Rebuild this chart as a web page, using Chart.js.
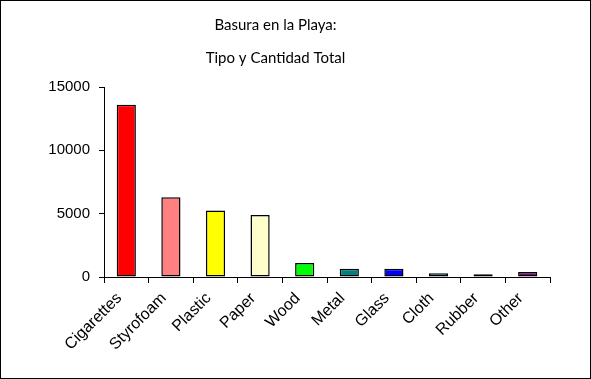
<!DOCTYPE html>
<html>
<head>
<meta charset="utf-8">
<script src="https://cdn.jsdelivr.net/npm/chart.js@4/dist/chart.umd.min.js"></script>
<style>
  html, body { margin: 0; padding: 0; background: #fff; }
  #box { width: 591px; height: 379px; box-sizing: border-box; border: 1px solid #000; }
  canvas { display: block; }
</style>
</head>
<body>
<div id="box"><canvas id="trashChart" width="589" height="377"></canvas></div>
<script>
// trash types and total counts
const categories = ['Cigarettes', 'Styrofoam', 'Plastic', 'Paper', 'Wood', 'Metal', 'Glass', 'Cloth', 'Rubber', 'Other'];
const totals = [13600, 6300, 5250, 4900, 1100, 650, 650, 300, 220, 400];
const barColors = ['#ff0000', '#ff8080', '#ffff00', '#ffffcc', '#00ff00', '#008080', '#0000ff', '#00ffff', '#ff00ff', '#800080'];
const yTicks = [0, 5000, 10000, 15000];
const titleLines = ['Basura en la Playa:', 'Tipo y Cantidad Total'];

function createTrashChart() {
  const canvas = document.getElementById('trashChart');
  const ctx = canvas.getContext('2d');
  new Chart(ctx, {
    type: 'bar',
    data: {
      labels: categories,
      datasets: [{
        data: totals,
        backgroundColor: barColors,
        borderColor: '#000',
        borderWidth: 1.5,
        borderSkipped: false,
        categoryPercentage: 1,
        barPercentage: 0.43
      }]
    },
    options: {
      responsive: false,
      animation: false,
      layout: { padding: { left: 0, right: 40, top: 0, bottom: 0 } },
      plugins: {
        legend: { display: false },
        tooltip: { enabled: false },
        title: {
          display: true,
          text: titleLines,
          color: '#000',
          font: { family: 'Lato', size: 15, weight: 'normal', lineHeight: 2.2 },
          padding: { top: 8, bottom: 12 }
        }
      },
      scales: {
        x: {
          grid: { drawOnChartArea: false, color: '#000', tickLength: 6, offset: true },
          border: { color: '#000' },
          ticks: {
            color: '#000',
            font: { family: 'Liberation Sans', size: 16 },
            minRotation: 45,
            maxRotation: 45,
            padding: 6,
            labelOffset: -7
          },
          afterFit: s => { s.height = 101; }
        },
        y: {
          min: 0,
          max: 15000,
          afterBuildTicks: s => { s.ticks = yTicks.map(v => ({ value: v })); },
          grid: { drawOnChartArea: false, color: '#000', tickLength: 5 },
          border: { color: '#000' },
          ticks: {
            color: '#000',
            font: { family: 'Liberation Sans', size: 15 },
            padding: 9,
            callback: v => String(v)
          },
          afterFit: s => { s.width = 103; }
        }
      }
    }
  });
}

createTrashChart();
</script>
</body>
</html>
